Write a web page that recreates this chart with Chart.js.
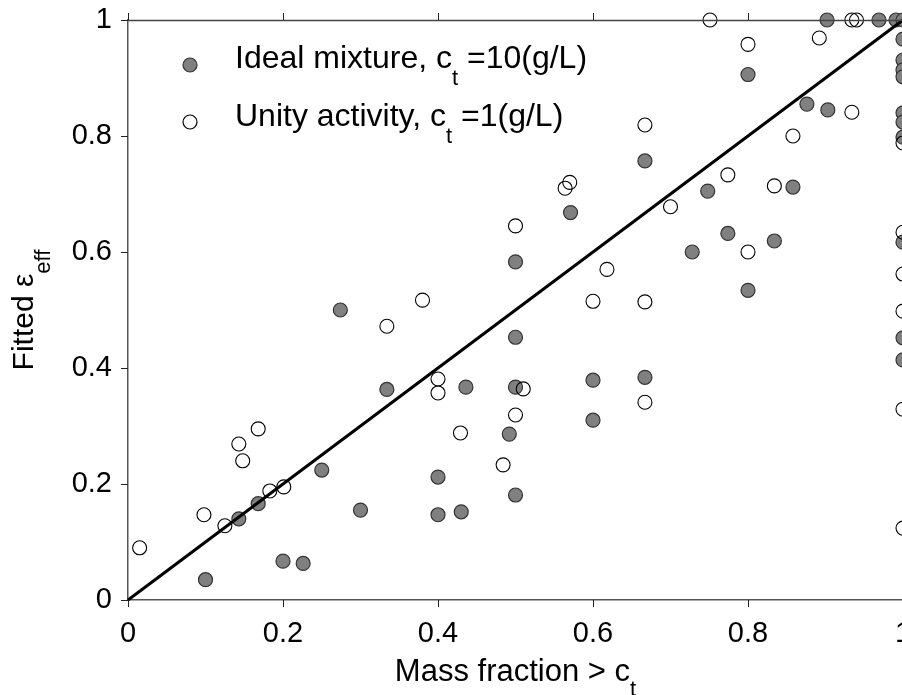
<!DOCTYPE html>
<html>
<head>
<meta charset="utf-8">
<script src="https://cdn.jsdelivr.net/npm/chart.js@4.4.1/dist/chart.umd.min.js"></script>
<style>
html,body{margin:0;padding:0;background:#fff;overflow:hidden;}
#wrap{width:930px;height:695px;position:relative;}
</style>
</head>
<body>
<div id="wrap"><canvas id="c" width="930" height="695"></canvas></div>
<script>
// ---- data ----
const idealX = [0.1,0.143,0.168,0.2,0.226,0.25,0.274,0.3,0.334,0.4,0.4,0.43,0.436,0.492,0.5,0.5,0.5,0.5,0.571,0.6,0.6,0.667,0.667,0.728,0.748,0.774,0.8,0.8,0.834,0.858,0.876,0.903,0.902,0.969,0.991,1,1,1,1,1,1,1,1,1,1,1];
const idealY = [0.035,0.14,0.166,0.067,0.063,0.224,0.5,0.155,0.363,0.212,0.147,0.152,0.367,0.286,0.181,0.367,0.453,0.583,0.668,0.379,0.31,0.384,0.757,0.6,0.705,0.632,0.534,0.906,0.619,0.712,0.855,0.845,1.0,1.0,1.0,1.0,0.967,0.931,0.914,0.902,0.84,0.824,0.798,0.617,0.452,0.414];
const unityX = [0.015,0.098,0.125,0.143,0.148,0.168,0.183,0.201,0.334,0.38,0.4,0.4,0.429,0.484,0.5,0.5,0.51,0.564,0.57,0.6,0.618,0.667,0.667,0.667,0.7,0.751,0.774,0.8,0.8,0.834,0.858,0.892,0.934,0.934,0.94,1,1,1,1,1,1];
const unityY = [0.09,0.147,0.128,0.269,0.24,0.295,0.188,0.195,0.472,0.517,0.381,0.357,0.288,0.233,0.319,0.645,0.364,0.71,0.72,0.515,0.57,0.514,0.341,0.819,0.678,1.0,0.733,0.958,0.6,0.714,0.8,0.969,0.841,1.0,1.0,0.788,0.634,0.562,0.498,0.329,0.124];
const lineX = [0, 1];
const lineY = [0, 1];
const tickValues = [0, 0.2, 0.4, 0.6, 0.8, 1];
const tickLabels = ['0', '0.2', '0.4', '0.6', '0.8', '1'];
const legendLabels = [
  {main: 'Ideal mixture, c', sub: 't', tail: ' =10(g/L)'},
  {main: 'Unity activity, c', sub: 't', tail: ' =1(g/L)'}
];
const xTitle = {main: 'Mass fraction > c', sub: 't'};
const yTitle = {main: 'Fitted \u03b5', sub: 'eff'};

const pts = (xs, ys) => xs.map((x, i) => ({x: x, y: ys[i]}));
const FONT = '"Liberation Sans", Arial, Helvetica, sans-serif';

function drawSubText(ctx, x, y, t, big, small, subDy) {
  ctx.font = big + 'px ' + FONT;
  ctx.fillText(t.main, x, y);
  let w = ctx.measureText(t.main).width;
  ctx.font = small + 'px ' + FONT;
  ctx.fillText(t.sub, x + w, y + subDy);
  w += ctx.measureText(t.sub).width;
  if (t.tail) {
    ctx.font = big + 'px ' + FONT;
    ctx.fillText(t.tail, x + w, y);
    w += ctx.measureText(t.tail).width;
  }
  return w;
}
function measureSubText(ctx, t, big, small) {
  ctx.font = big + 'px ' + FONT;
  let w = ctx.measureText(t.main).width;
  ctx.font = small + 'px ' + FONT;
  w += ctx.measureText(t.sub).width;
  return w;
}

const decor = {
  id: 'decor',
  afterDraw(chart) {
    const ctx = chart.ctx;
    const xs = chart.scales.x, ys = chart.scales.y;
    const a = chart.chartArea;
    ctx.save();
    // box top & right
    ctx.strokeStyle = '#444';
    ctx.lineWidth = 1.3;
    ctx.beginPath();
    ctx.moveTo(a.left, a.top + 0.5); ctx.lineTo(a.right, a.top + 0.5);
    ctx.moveTo(a.right + 0.5, a.top); ctx.lineTo(a.right + 0.5, a.bottom);
    ctx.stroke();
    // outward ticks
    ctx.strokeStyle = '#222';
    ctx.lineWidth = 1;
    ctx.beginPath();
    const L = 7;
    tickValues.forEach(v => {
      const px = Math.round(xs.getPixelForValue(v)) + 0.5;
      ctx.moveTo(px, a.bottom); ctx.lineTo(px, a.bottom + L);
      ctx.moveTo(px, a.top); ctx.lineTo(px, a.top - L);
      const py = Math.round(ys.getPixelForValue(v)) + 0.5;
      ctx.moveTo(a.left, py); ctx.lineTo(a.left - L, py);
      ctx.moveTo(a.right, py); ctx.lineTo(a.right + L, py);
    });
    ctx.stroke();
    // legend
    const markers = [
      {fill: '#808080', stroke: '#333333'},
      {fill: null, stroke: '#000000'}
    ];
    legendLabels.forEach((lab, i) => {
      const my = 65 + i * 57;
      ctx.beginPath();
      ctx.arc(190, my, 7, 0, Math.PI * 2);
      if (markers[i].fill) { ctx.fillStyle = markers[i].fill; ctx.fill(); }
      ctx.lineWidth = 1.2;
      ctx.strokeStyle = markers[i].stroke;
      ctx.stroke();
      ctx.fillStyle = '#000';
      ctx.textBaseline = 'alphabetic';
      ctx.textAlign = 'left';
      drawSubText(ctx, 235, 68 + i * 58, lab, 32, 22, 17);
    });
    // x title
    ctx.fillStyle = '#000';
    ctx.textAlign = 'left';
    ctx.textBaseline = 'alphabetic';
    const cx = (a.left + a.right) / 2;
    const wx = measureSubText(ctx, xTitle, 31, 22);
    drawSubText(ctx, cx - wx / 2, 681, xTitle, 31, 22, 15);
    // y title
    ctx.translate(33, (a.top + a.bottom) / 2);
    ctx.rotate(-Math.PI / 2);
    const wy = measureSubText(ctx, yTitle, 30, 22);
    drawSubText(ctx, -wy / 2, 0, yTitle, 30, 22, 17);
    ctx.restore();
  }
};

new Chart(document.getElementById('c'), {
  type: 'scatter',
  data: {
    datasets: [
      {
        label: 'line',
        data: pts(lineX, lineY),
        showLine: true,
        borderColor: '#000',
        borderWidth: 3,
        pointRadius: 0,
        order: 0,
        clip: false
      },
      {
        label: 'Unity activity',
        data: pts(unityX, unityY),
        pointRadius: 7,
        pointHoverRadius: 7,
        backgroundColor: 'rgba(0,0,0,0)',
        borderColor: '#000',
        borderWidth: 1.1,
        order: 1,
        clip: false
      },
      {
        label: 'Ideal mixture',
        data: pts(idealX, idealY),
        pointRadius: 7,
        pointHoverRadius: 7,
        backgroundColor: '#808080',
        borderColor: '#333333',
        borderWidth: 1.2,
        order: 2,
        clip: false
      }
    ]
  },
  options: {
    responsive: false,
    animation: false,
    events: [],
    layout: {autoPadding: false, padding: {left: 0, top: 20, right: 27, bottom: 0}},
    plugins: {legend: {display: false}, tooltip: {enabled: false}},
    scales: {
      x: {
        type: 'linear', min: 0, max: 1,
        afterFit(s) { s.height = 95; s.paddingLeft = 0; s.paddingRight = 0; },
        afterBuildTicks(s) { s.ticks = tickValues.map(v => ({value: v})); },
        grid: {display: false, drawTicks: false},
        border: {display: true, color: '#555', width: 1.5},
        ticks: {color: '#000', padding: 17, font: {family: FONT, size: 29}, maxRotation: 0, autoSkip: false,
                callback: (v, i) => tickLabels[i]}
      },
      y: {
        type: 'linear', min: 0, max: 1,
        afterFit(s) { s.width = 128; s.paddingTop = 0; s.paddingBottom = 0; },
        afterBuildTicks(s) { s.ticks = tickValues.map(v => ({value: v})); },
        grid: {display: false, drawTicks: false},
        border: {display: true, color: '#555', width: 1.5},
        ticks: {color: '#000', padding: 16, font: {family: FONT, size: 29}, autoSkip: false,
                callback: (v, i) => tickLabels[i]}
      }
    }
  },
  plugins: [decor]
});
</script>
</body>
</html>
